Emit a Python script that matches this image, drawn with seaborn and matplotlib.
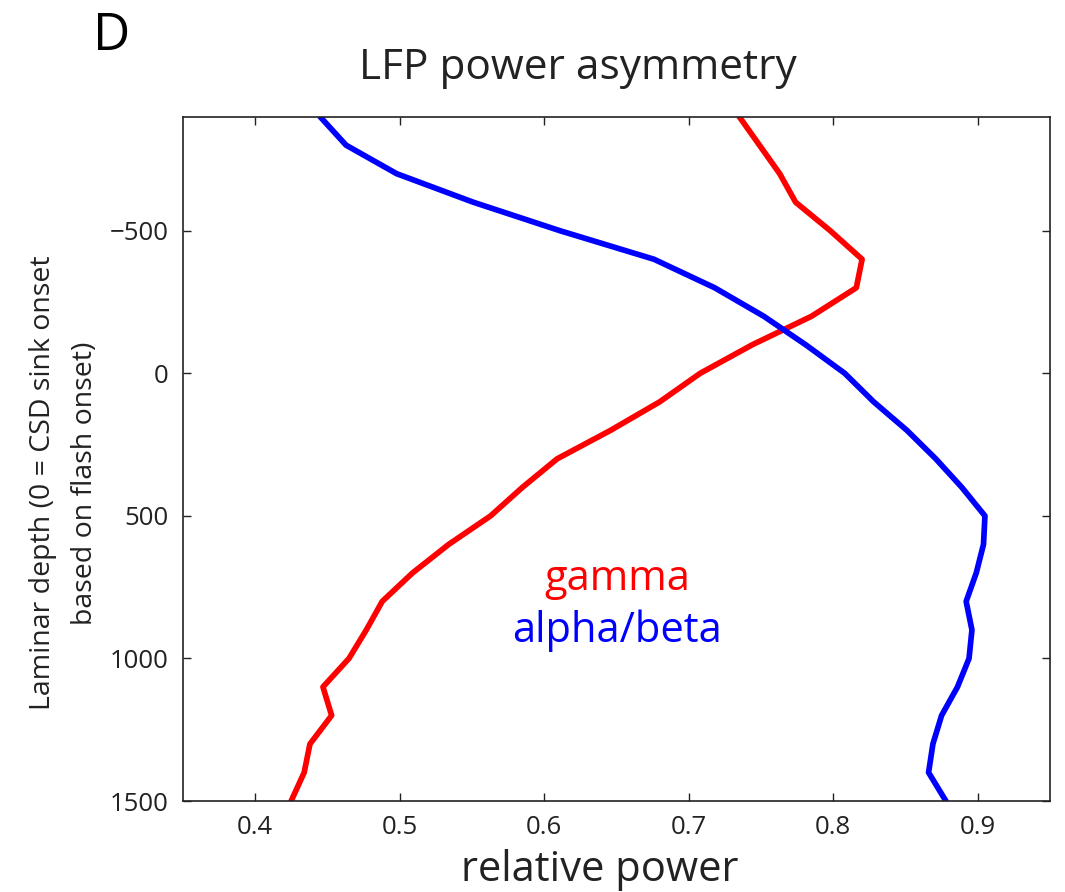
import numpy as np
import pandas as pd
import matplotlib
matplotlib.use("Agg")
import matplotlib.pyplot as plt
import seaborn as sns

depth = [-900, -800, -700, -600, -500, -400, -300, -200, -100, 0, 100, 200, 300,
         400, 500, 600, 700, 800, 900, 1000, 1100, 1200, 1300, 1400, 1500]
gamma = [0.735, 0.749, 0.763, 0.774, 0.798, 0.820, 0.816, 0.785, 0.744, 0.708,
         0.680, 0.646, 0.609, 0.585, 0.563, 0.534, 0.509, 0.488, 0.477, 0.465,
         0.447, 0.453, 0.438, 0.434, 0.425]
alphabeta = [0.445, 0.463, 0.498, 0.551, 0.611, 0.676, 0.718, 0.752, 0.781, 0.808,
             0.828, 0.851, 0.871, 0.889, 0.905, 0.904, 0.899, 0.892, 0.896, 0.894,
             0.886, 0.875, 0.869, 0.866, 0.878]
xticks = [0.4, 0.5, 0.6, 0.7, 0.8, 0.9]
yticks = [-500, 0, 500, 1000, 1500]

sns.set_theme(style="ticks")
plt.rcParams['font.family'] = ['Open Sans', 'DejaVu Sans']
plt.rcParams['xtick.direction'] = 'in'
plt.rcParams['ytick.direction'] = 'in'

W, H = 1065, 892
fig = plt.figure(figsize=(W / 100, H / 100), dpi=100)
ax = fig.add_axes([0.1716, 0.102, 0.9859 - 0.1716, 0.8692 - 0.102])

df = pd.DataFrame({"depth": depth * 2,
                   "power": gamma + alphabeta,
                   "band": ["gamma"] * len(depth) + ["alpha/beta"] * len(depth)})
sns.lineplot(data=df, x="power", y="depth", hue="band", orient="y", sort=False,
             estimator=None, palette={"gamma": "#ff0000", "alpha/beta": "#0000ff"},
             linewidth=4.1, legend=False, ax=ax)

ax.set_xlim(0.35, 0.95)
ax.set_ylim(1500, -900)
ax.set_xticks(xticks)
ax.set_xticklabels([f"{t:.1f}" for t in xticks])
ax.set_yticks(yticks)
ax.set_yticklabels(["\u2212500", "0", "500", "1000", "1500"])
ax.tick_params(axis="both", which="both", direction="in", length=6, width=1,
               top=True, right=True, labelsize=18.5, pad=10, colors="#222222")
for s in ax.spines.values():
    s.set_visible(True)
    s.set_linewidth(1.2)
    s.set_color("#222222")
ax.set_xlabel("")
ax.set_ylabel("")

fig.text(600 / W, 1 - 870 / H, "relative power", fontsize=30, color="#222222",
         ha="center", va="center")
fig.text(64 / W, 1 - 483 / H, "Laminar depth (0 = CSD sink onset\nbased on flash onset)",
         fontsize=20.5, color="#222222", rotation=90, ha="center", va="center",
         linespacing=1.7, multialignment="center")
fig.text(578 / W, 1 - 68 / H, "LFP power asymmetry", fontsize=30.5, color="#222222",
         ha="center", va="center")

ax.text(0.6506, 721, "gamma", color="#ff0000", fontsize=30, ha="center", va="center")
ax.text(0.6506, 904, "alpha/beta", color="#0000ff", fontsize=30, ha="center", va="center")

fig.text(112 / W, 1 - 36 / H, "D", fontsize=37, color="black",
         ha="center", va="center")

fig.savefig("out.png", dpi=100, facecolor="white")
